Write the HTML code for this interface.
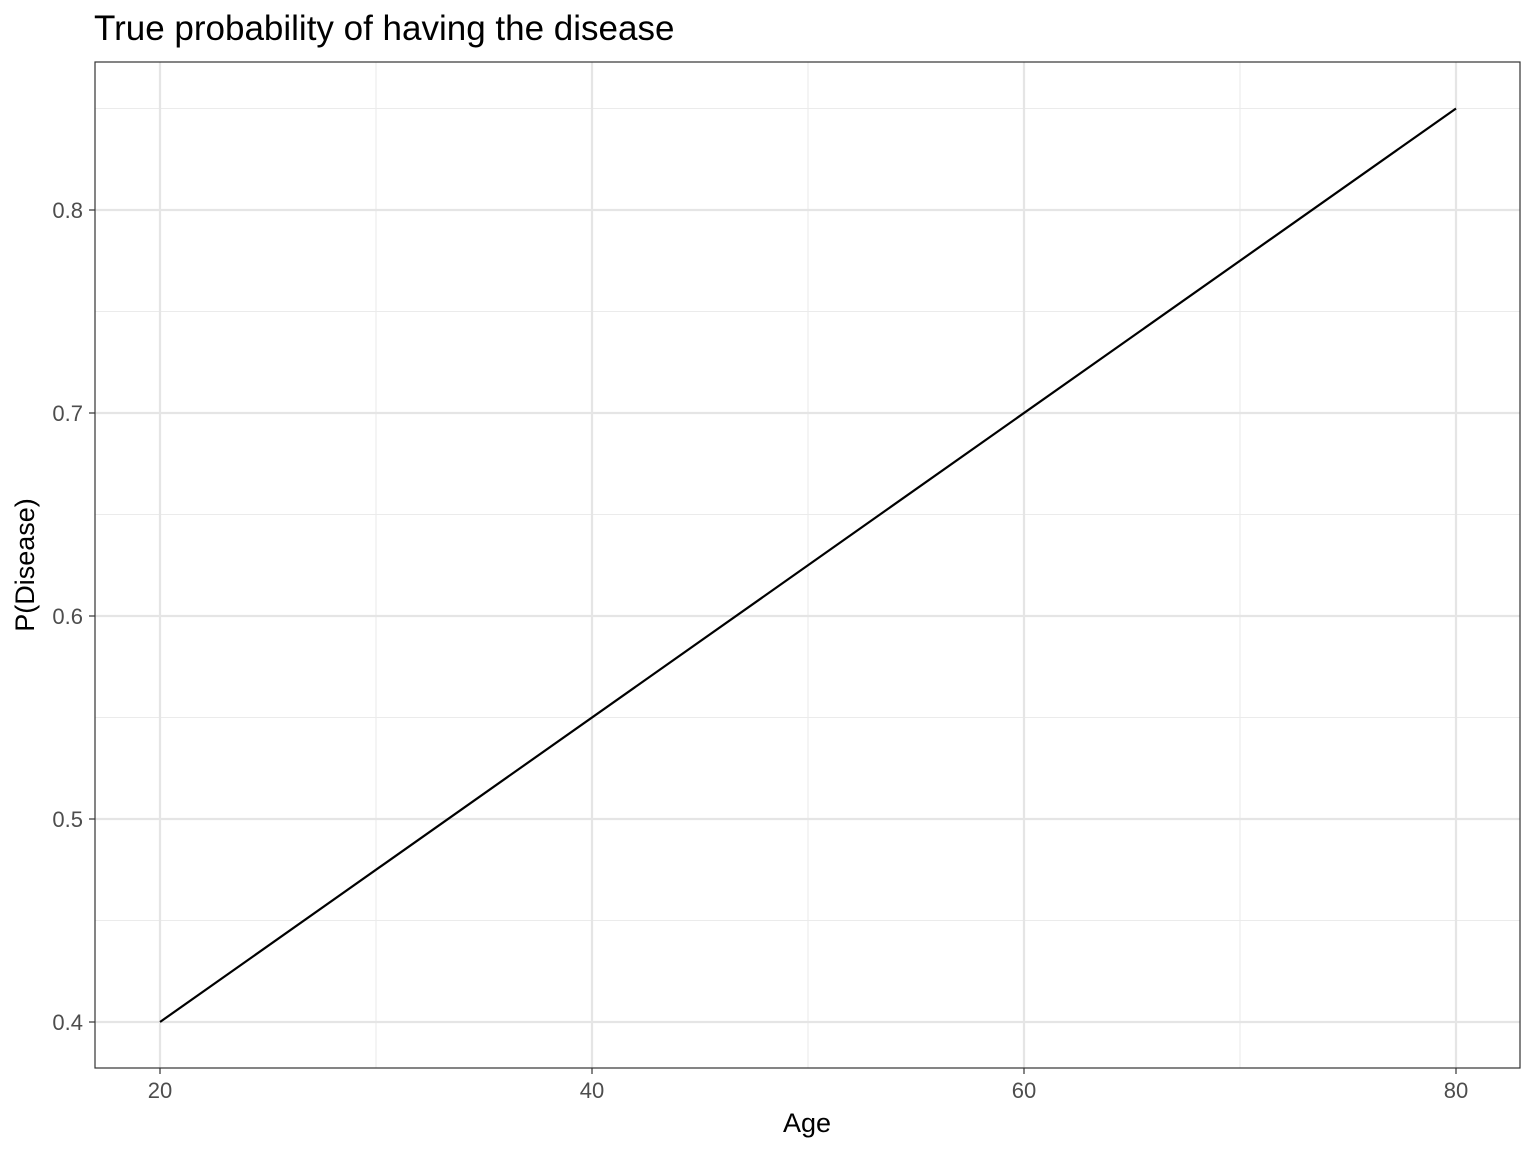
<!DOCTYPE html>
<html>
<head>
<meta charset="utf-8">
<style>
html,body{margin:0;padding:0;background:#fff;}
svg{display:block;font-family:"Liberation Sans",Arial,sans-serif;}
</style>
</head>
<body>
<svg id="chart" width="1536" height="1152" viewBox="0 0 1536 1152" xmlns="http://www.w3.org/2000/svg">
<text x="94" y="40" font-size="35" fill="#000">True probability of having the disease</text>
<g id="grid"></g>
<g id="series"></g>
<rect x="95" y="62" width="1425" height="1006" fill="none" stroke="#333" stroke-width="1.2"/>
<g id="axes"></g>
<text x="807" y="1132" font-size="27" text-anchor="middle" fill="#000">Age</text>
<text transform="translate(34,565) rotate(-90)" font-size="27" text-anchor="middle" fill="#000">P(Disease)</text>
</svg>
<script>
const ages = [20, 80];
const probs = [0.4, 0.85];
const xTicks = [20, 40, 60, 80];
const xMinor = [30, 50, 70];
const yTicks = [0.4, 0.5, 0.6, 0.7, 0.8];
const yMinor = [0.45, 0.55, 0.65, 0.75, 0.85];

const NS = 'http://www.w3.org/2000/svg';
function xs(v){ return 160 + (v - 20) * (1456 - 160) / 60; }
function ys(v){ return 1022 - (v - 0.4) * (1022 - 210) / 0.4; }
function mk(tag, attrs, parent){
  const e = document.createElementNS(NS, tag);
  for (const k in attrs) e.setAttribute(k, attrs[k]);
  parent.appendChild(e);
  return e;
}
const grid = document.getElementById('grid');
const axes = document.getElementById('axes');
const series = document.getElementById('series');

xMinor.forEach(v => {
  const l = mk('line', {x1: xs(v), x2: xs(v), y1: 62, y2: 1068, stroke: '#ebebeb', 'stroke-width': 1.1}, grid);
  
  
});
yMinor.forEach(v => {
  const l = mk('line', {x1: 95, x2: 1520, y1: ys(v), y2: ys(v), stroke: '#ebebeb', 'stroke-width': 1.1}, grid);
  
  
});
xTicks.forEach(v => {
  const l = mk('line', {x1: xs(v), x2: xs(v), y1: 62, y2: 1068, stroke: '#e5e5e5', 'stroke-width': 2.2}, grid);
  
  
  const t = mk('line', {x1: xs(v), x2: xs(v), y1: 1068, y2: 1074, stroke: '#333', 'stroke-width': 1.2}, axes);
  
  
  const tx = mk('text', {x: xs(v), y: 1098, 'font-size': 22, 'text-anchor': 'middle', fill: '#4d4d4d'}, axes);
  tx.textContent = v;
  
  
});
yTicks.forEach(v => {
  const l = mk('line', {x1: 95, x2: 1520, y1: ys(v), y2: ys(v), stroke: '#e5e5e5', 'stroke-width': 2.2}, grid);
  
  
  const t = mk('line', {x1: 89, x2: 95, y1: ys(v), y2: ys(v), stroke: '#333', 'stroke-width': 1.2}, axes);
  
  
  const tx = mk('text', {x: 83, y: ys(v) + 8, 'font-size': 22, 'text-anchor': 'end', fill: '#4d4d4d'}, axes);
  tx.textContent = v.toFixed(1);
  
  
});
const pts = ages.map((a, i) => xs(a) + ',' + ys(probs[i])).join(' ');
const line = mk('polyline', {points: pts, fill: 'none', stroke: '#000', 'stroke-width': 2.2}, series);


</script>
</body>
</html>
